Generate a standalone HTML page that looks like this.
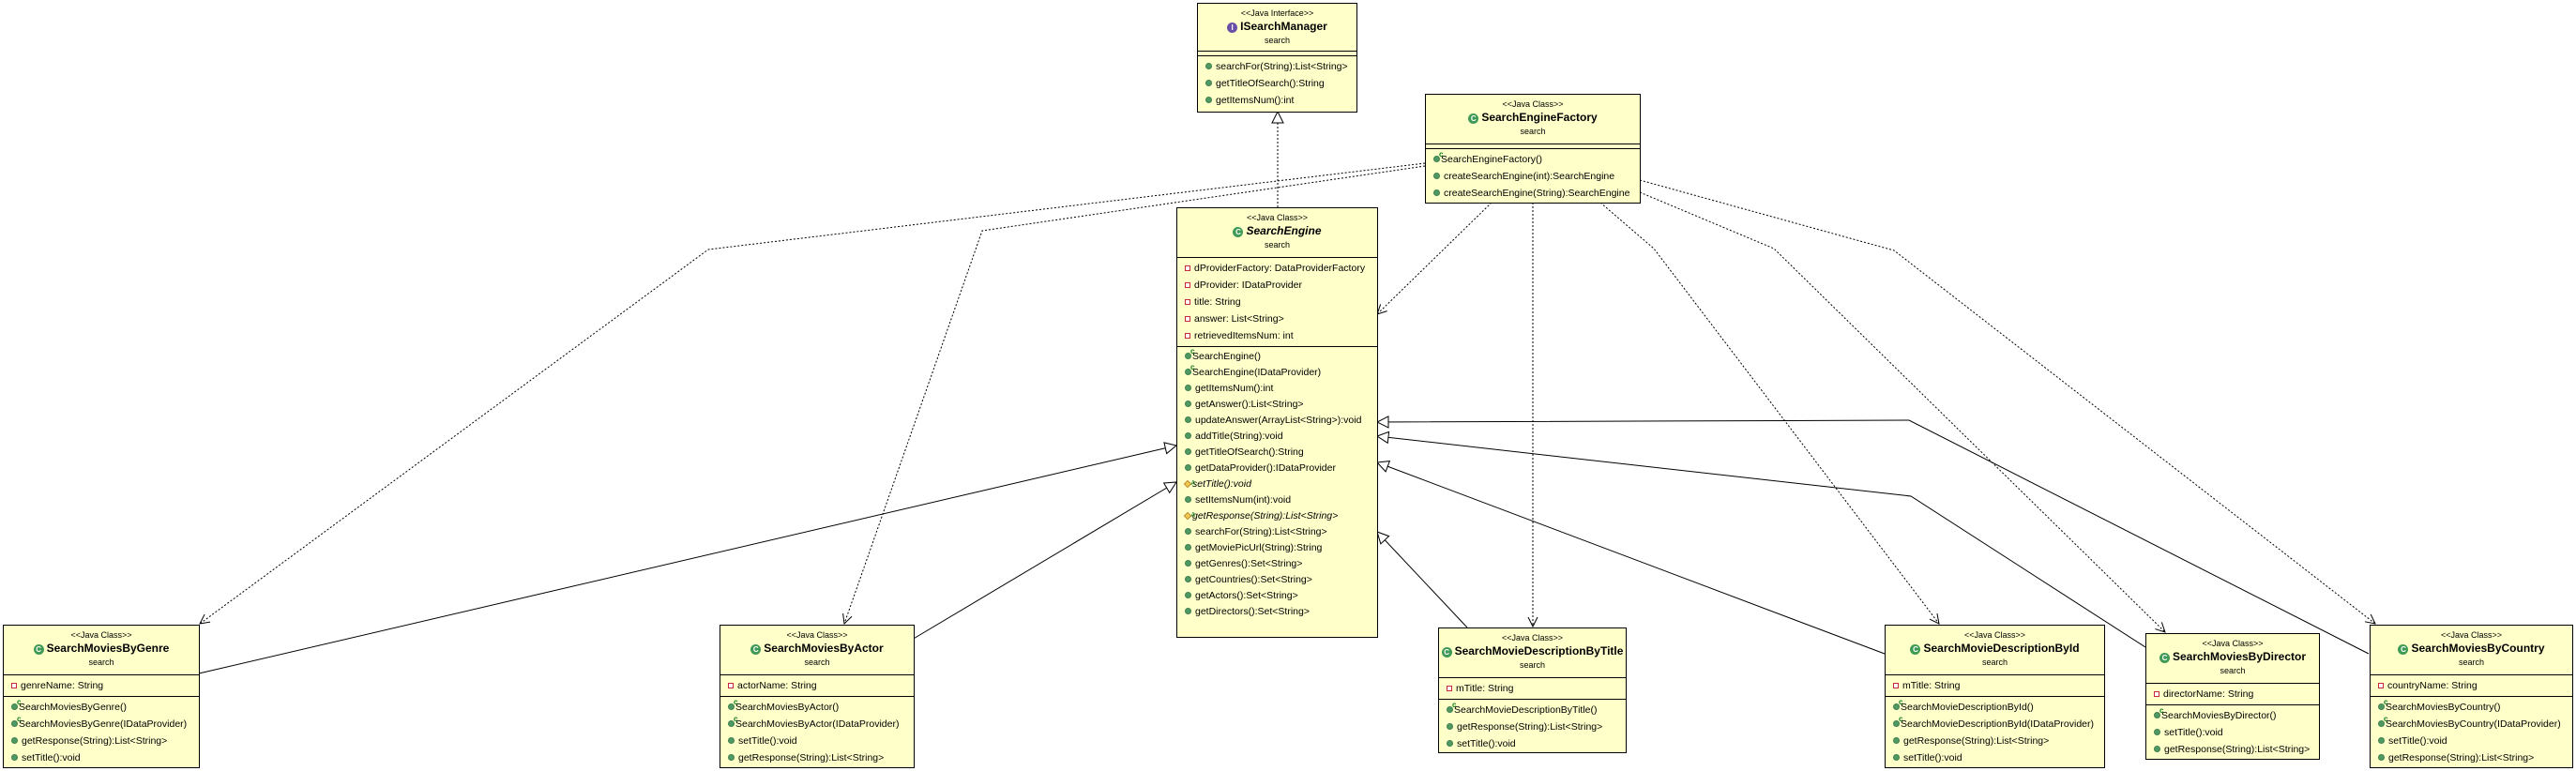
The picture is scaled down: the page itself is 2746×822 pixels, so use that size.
<!DOCTYPE html>
<html><head><meta charset="utf-8">
<style>
html,body{margin:0;padding:0;background:#fff;}
body{width:2746px;height:822px;position:relative;overflow:hidden;font-family:"Liberation Sans","DejaVu Sans",sans-serif;color:#000;}
svg.lines{position:absolute;left:0;top:0;}
.b{position:absolute;background:#ffffca;border:1px solid #000;box-sizing:border-box;}
.h{height:51px;border-bottom:1px solid #000;text-align:center;box-sizing:border-box;}
.st{font-size:9px;padding-top:5px;line-height:11px;}
.nm{font-size:12px;font-weight:bold;line-height:17px;white-space:nowrap;}
.nm.it{font-style:italic;}
.pk{font-size:9px;line-height:13px;}
.cmp{border-bottom:1px solid #000;padding:2px 0 2px 0;}
.cmp:last-child{border-bottom:none;}
.r{height:18px;line-height:18px;font-size:10.5px;white-space:nowrap;padding-left:8px;position:relative;}
.se .m .r{height:17px;line-height:17px;}
.r i{display:inline-block;width:7px;height:7px;border-radius:50%;background:#4f9a62;border:1px solid #3f7f50;box-sizing:border-box;margin-right:4px;vertical-align:0px;position:relative;}
.r i.p{border-radius:0;width:6px;height:6px;background:#fff;border:1.5px solid #c8283c;}
.r i.c{margin-right:1px;}
.r i.c::after{content:"c";position:absolute;left:5px;top:-6px;font-size:8px;color:#0a7a1a;font-weight:bold;font-style:normal;line-height:8px;}
.r i.a{border-radius:0;transform:rotate(45deg);background:#f3c850;border:1px solid #b89030;width:6px;height:6px;margin-right:2px;}
.r i.a::after{content:"A";position:absolute;left:4px;top:-6px;font-size:7px;color:#0a7a1a;transform:rotate(-45deg);font-style:normal;line-height:8px;}
.r.it{font-style:italic;}
.ic{display:inline-block;width:11px;height:11px;border-radius:50%;background:#3f9a56;color:#fff;font-size:8px;line-height:11px;text-align:center;font-weight:bold;margin-right:3px;vertical-align:0px;font-style:normal;}
.ic.int{background:#6a4fa8;}
</style></head><body>
<svg class="lines" width="2746" height="822" viewBox="0 0 2746 822">
<defs>
<marker id="tri" markerWidth="14" markerHeight="14" refX="13" refY="7" orient="auto" markerUnits="userSpaceOnUse">
<path d="M1,1 L13,7 L1,13 Z" fill="#fff" stroke="#000" stroke-width="1"/>
</marker>
<marker id="opn" markerWidth="12" markerHeight="12" refX="11" refY="6" orient="auto" markerUnits="userSpaceOnUse">
<path d="M1,1 L11,6 L1,11" fill="none" stroke="#000" stroke-width="1"/>
</marker>
</defs>
<g fill="none" stroke="#000" stroke-width="1">
<polyline points="1362,221 1362,119" stroke-dasharray="2,2" marker-end="url(#tri)"/>
<g stroke-dasharray="2,2" marker-end="url(#opn)">
<polyline points="1519,174 755,266 213,665"/>
<polyline points="1519,177 1047,246 900,665"/>
<polyline points="1590,216 1468,335"/>
<polyline points="1634,216 1634,668"/>
<polyline points="1706,216 1763,265 2067,665"/>
<polyline points="1748,205 1891,265 2308,674"/>
<polyline points="1748,192 2019,267 2532,665"/>
</g>
<g marker-end="url(#tri)">
<polyline points="212,718 1254,475"/>
<polyline points="972,682 1254,514"/>
<polyline points="1564,669 1468,567"/>
<polyline points="2009,697 1468,493"/>
<polyline points="2287,690 2037,529 1468,465"/>
<polyline points="2525,697 2035,448 1468,450"/>
</g>
</g>
</svg>

<div class="b" style="left:1276px;top:3px;width:171px;height:117px;">
<div class="h"><div class="st">&lt;&lt;Java Interface&gt;&gt;</div><div class="nm"><span class="ic int">I</span>ISearchManager</div><div class="pk">search</div></div>
<div class="cmp" style="height:4px;padding:0"></div>
<div class="cmp m"><div class="r"><i></i>searchFor(String):List&lt;String&gt;</div><div class="r"><i></i>getTitleOfSearch():String</div><div class="r"><i></i>getItemsNum():int</div></div>
</div>

<div class="b" style="left:1519px;top:100px;width:230px;height:117px;">
<div class="h" style="height:53px"><div class="st">&lt;&lt;Java Class&gt;&gt;</div><div class="nm"><span class="ic">C</span>SearchEngineFactory</div><div class="pk">search</div></div>
<div class="cmp" style="height:4px;padding:0"></div>
<div class="cmp m"><div class="r"><i class="c"></i>SearchEngineFactory()</div><div class="r"><i></i>createSearchEngine(int):SearchEngine</div><div class="r"><i></i>createSearchEngine(String):SearchEngine</div></div>
</div>

<div class="b se" style="left:1254px;top:221px;width:215px;height:459px;">
<div class="h" style="height:53px"><div class="st">&lt;&lt;Java Class&gt;&gt;</div><div class="nm it"><span class="ic">C</span>SearchEngine</div><div class="pk">search</div></div>
<div class="cmp"><div class="r"><i class="p"></i>dProviderFactory: DataProviderFactory</div><div class="r"><i class="p"></i>dProvider: IDataProvider</div><div class="r"><i class="p"></i>title: String</div><div class="r"><i class="p"></i>answer: List&lt;String&gt;</div><div class="r"><i class="p"></i>retrievedItemsNum: int</div></div>
<div class="cmp m">
<div class="r"><i class="c"></i>SearchEngine()</div>
<div class="r"><i class="c"></i>SearchEngine(IDataProvider)</div>
<div class="r"><i></i>getItemsNum():int</div>
<div class="r"><i></i>getAnswer():List&lt;String&gt;</div>
<div class="r"><i></i>updateAnswer(ArrayList&lt;String&gt;):void</div>
<div class="r"><i></i>addTitle(String):void</div>
<div class="r"><i></i>getTitleOfSearch():String</div>
<div class="r"><i></i>getDataProvider():IDataProvider</div>
<div class="r it"><i class="a"></i>setTitle():void</div>
<div class="r"><i></i>setItemsNum(int):void</div>
<div class="r it"><i class="a"></i>getResponse(String):List&lt;String&gt;</div>
<div class="r"><i></i>searchFor(String):List&lt;String&gt;</div>
<div class="r"><i></i>getMoviePicUrl(String):String</div>
<div class="r"><i></i>getGenres():Set&lt;String&gt;</div>
<div class="r"><i></i>getCountries():Set&lt;String&gt;</div>
<div class="r"><i></i>getActors():Set&lt;String&gt;</div>
<div class="r"><i></i>getDirectors():Set&lt;String&gt;</div>
</div>
</div>

<div class="b" style="left:3px;top:666px;width:210px;height:153px;">
<div class="h" style="height:53px"><div class="st">&lt;&lt;Java Class&gt;&gt;</div><div class="nm"><span class="ic">C</span>SearchMoviesByGenre</div><div class="pk">search</div></div>
<div class="cmp"><div class="r"><i class="p"></i>genreName: String</div></div>
<div class="cmp m"><div class="r"><i class="c"></i>SearchMoviesByGenre()</div><div class="r"><i class="c"></i>SearchMoviesByGenre(IDataProvider)</div><div class="r"><i></i>getResponse(String):List&lt;String&gt;</div><div class="r"><i></i>setTitle():void</div></div>
</div>

<div class="b" style="left:767px;top:666px;width:208px;height:153px;">
<div class="h" style="height:53px"><div class="st">&lt;&lt;Java Class&gt;&gt;</div><div class="nm"><span class="ic">C</span>SearchMoviesByActor</div><div class="pk">search</div></div>
<div class="cmp"><div class="r"><i class="p"></i>actorName: String</div></div>
<div class="cmp m"><div class="r"><i class="c"></i>SearchMoviesByActor()</div><div class="r"><i class="c"></i>SearchMoviesByActor(IDataProvider)</div><div class="r"><i></i>setTitle():void</div><div class="r"><i></i>getResponse(String):List&lt;String&gt;</div></div>
</div>

<div class="b" style="left:1533px;top:669px;width:201px;height:134px;">
<div class="h" style="height:53px"><div class="st">&lt;&lt;Java Class&gt;&gt;</div><div class="nm"><span class="ic">C</span>SearchMovieDescriptionByTitle</div><div class="pk">search</div></div>
<div class="cmp"><div class="r"><i class="p"></i>mTitle: String</div></div>
<div class="cmp m"><div class="r"><i class="c"></i>SearchMovieDescriptionByTitle()</div><div class="r"><i></i>getResponse(String):List&lt;String&gt;</div><div class="r"><i></i>setTitle():void</div></div>
</div>

<div class="b" style="left:2009px;top:666px;width:235px;height:153px;">
<div class="h" style="height:53px"><div class="st">&lt;&lt;Java Class&gt;&gt;</div><div class="nm"><span class="ic">C</span>SearchMovieDescriptionById</div><div class="pk">search</div></div>
<div class="cmp"><div class="r"><i class="p"></i>mTitle: String</div></div>
<div class="cmp m"><div class="r"><i class="c"></i>SearchMovieDescriptionById()</div><div class="r"><i class="c"></i>SearchMovieDescriptionById(IDataProvider)</div><div class="r"><i></i>getResponse(String):List&lt;String&gt;</div><div class="r"><i></i>setTitle():void</div></div>
</div>

<div class="b" style="left:2287px;top:675px;width:186px;height:135px;">
<div class="h" style="height:53px"><div class="st">&lt;&lt;Java Class&gt;&gt;</div><div class="nm"><span class="ic">C</span>SearchMoviesByDirector</div><div class="pk">search</div></div>
<div class="cmp"><div class="r"><i class="p"></i>directorName: String</div></div>
<div class="cmp m"><div class="r"><i class="c"></i>SearchMoviesByDirector()</div><div class="r"><i></i>setTitle():void</div><div class="r"><i></i>getResponse(String):List&lt;String&gt;</div></div>
</div>

<div class="b" style="left:2526px;top:666px;width:217px;height:153px;">
<div class="h" style="height:53px"><div class="st">&lt;&lt;Java Class&gt;&gt;</div><div class="nm"><span class="ic">C</span>SearchMoviesByCountry</div><div class="pk">search</div></div>
<div class="cmp"><div class="r"><i class="p"></i>countryName: String</div></div>
<div class="cmp m"><div class="r"><i class="c"></i>SearchMoviesByCountry()</div><div class="r"><i class="c"></i>SearchMoviesByCountry(IDataProvider)</div><div class="r"><i></i>setTitle():void</div><div class="r"><i></i>getResponse(String):List&lt;String&gt;</div></div>
</div>
</body></html>
